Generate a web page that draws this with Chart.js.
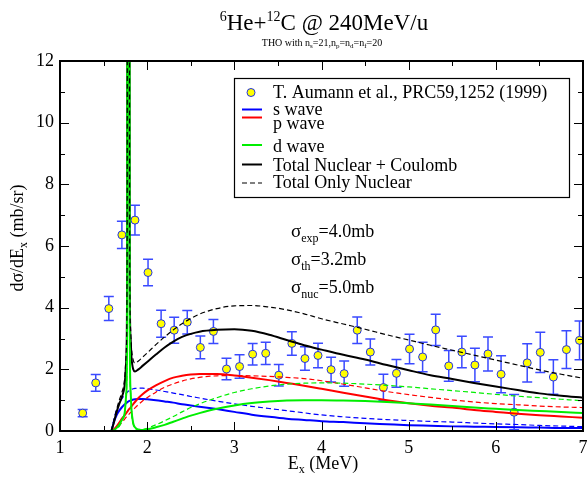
<!DOCTYPE html>
<html>
<head>
<meta charset="utf-8">
<script src="https://cdn.jsdelivr.net/npm/chart.js@4.4.0/dist/chart.umd.min.js"></script>
<style>
  html, body { margin: 0; padding: 0; background: #fff; }
  canvas { display: block; }
</style>
</head>
<body>
<canvas id="chart" width="588" height="477"></canvas>
<script>
// T. Aumann et al. data
const expE = [1.26, 1.41, 1.56, 1.71, 1.86, 2.01, 2.16, 2.31, 2.46, 2.61, 2.76, 2.91, 3.06, 3.21, 3.36, 3.51, 3.66, 3.81, 3.96, 4.11,
  4.26, 4.41, 4.56, 4.71, 4.86, 5.01, 5.16, 5.31, 5.46, 5.61, 5.76, 5.91, 6.06, 6.21, 6.36, 6.51, 6.66, 6.81, 6.96];
const expVal = [0.58, 1.56, 3.97, 6.36, 6.84, 5.14, 3.48, 3.27, 3.53, 2.71, 3.23, 2.01, 2.09, 2.49, 2.52, 1.81, 2.84, 2.35, 2.45, 1.99,
  1.86, 3.27, 2.56, 1.41, 1.87, 2.66, 2.40, 3.28, 2.11, 2.56, 2.14, 2.50, 1.84, 0.61, 2.21, 2.55, 1.75, 2.64, 2.94];
const expErr = [0.12, 0.27, 0.39, 0.44, 0.48, 0.43, 0.44, 0.42, 0.38, 0.37, 0.39, 0.35, 0.38, 0.35, 0.36, 0.35, 0.38, 0.38, 0.40, 0.40,
  0.41, 0.43, 0.42, 0.43, 0.45, 0.48, 0.48, 0.51, 0.50, 0.51, 0.54, 0.55, 0.60, 0.57, 0.62, 0.65, 0.56, 0.61, 0.63];

// THO calculations, all on the same energy grid
const curveE = [1.59, 1.62, 1.65, 1.68, 1.71, 1.74, 1.76, 1.77, 1.78, 1.79, 1.80, 1.81, 1.82, 1.84, 1.86, 1.90, 1.95, 2.00, 2.10, 2.20,
  2.30, 2.40, 2.50, 2.60, 2.80, 3.00, 3.20, 3.40, 3.60, 3.80, 4.00, 4.25, 4.50, 4.75, 5.00, 5.25, 5.50, 5.75, 6.00, 6.25,
  6.50, 6.75, 7.00];
const sWave = [0, 0.30, 0.52, 0.66, 0.77, 0.86, 0.90, 0.93, 0.95, 0.97, 0.98, 0.99, 1.00, 1.02, 1.03, 1.04, 1.04, 1.03, 1.00, 0.96,
  0.92, 0.87, 0.83, 0.79, 0.71, 0.62, 0.53, 0.46, 0.40, 0.36, 0.32, 0.29, 0.25, 0.22, 0.19, 0.17, 0.15, 0.14, 0.13, 0.12,
  0.11, 0.10, 0.10];
const sWaveNuc = [0, 0.40, 0.70, 0.90, 1.05, 1.16, 1.22, 1.25, 1.28, 1.30, 1.32, 1.34, 1.35, 1.37, 1.38, 1.39, 1.39, 1.37, 1.33, 1.28,
  1.23, 1.18, 1.12, 1.07, 0.97, 0.88, 0.80, 0.73, 0.66, 0.59, 0.52, 0.46, 0.41, 0.37, 0.34, 0.31, 0.29, 0.26, 0.23, 0.21,
  0.18, 0.16, 0.14];
const pWave = [0, 0.06, 0.15, 0.27, 0.40, 0.50, 0.58, 0.62, 0.66, 0.70, 0.73, 0.76, 0.80, 0.87, 0.94, 1.07, 1.20, 1.31, 1.48, 1.62,
  1.73, 1.79, 1.83, 1.85, 1.85, 1.80, 1.73, 1.65, 1.56, 1.47, 1.37, 1.24, 1.12, 1.00, 0.90, 0.82, 0.76, 0.68, 0.62, 0.56,
  0.51, 0.47, 0.43];
const pWaveNuc = [0, 0.04, 0.10, 0.18, 0.28, 0.38, 0.45, 0.48, 0.51, 0.54, 0.57, 0.60, 0.63, 0.69, 0.75, 0.86, 0.98, 1.08, 1.26, 1.42,
  1.53, 1.62, 1.69, 1.74, 1.79, 1.80, 1.79, 1.77, 1.74, 1.70, 1.63, 1.52, 1.40, 1.28, 1.18, 1.09, 1.01, 0.94, 0.89, 0.85,
  0.81, 0.78, 0.76];
const dWave = [0, 0.03, 0.10, 0.20, 0.36, 0.55, 1.20, 3.50, 40, 40, 3.50, 1.30, 0.70, 0.25, 0.12, 0.04, 0.03, 0.05, 0.12, 0.20,
  0.30, 0.40, 0.50, 0.58, 0.72, 0.83, 0.91, 0.96, 0.99, 1.00, 1.00, 0.99, 0.97, 0.94, 0.90, 0.86, 0.81, 0.76, 0.72, 0.68,
  0.65, 0.62, 0.58];
const dWaveNuc = [0, 0.02, 0.07, 0.15, 0.30, 0.55, 1.20, 3.30, 40, 40, 3.30, 1.20, 0.60, 0.22, 0.10, 0.05, 0.05, 0.09, 0.20, 0.33,
  0.47, 0.62, 0.76, 0.88, 1.08, 1.25, 1.37, 1.46, 1.52, 1.55, 1.56, 1.55, 1.52, 1.48, 1.43, 1.37, 1.31, 1.25, 1.19, 1.13,
  1.08, 1.03, 0.98];
const totalNC = [0, 0.30, 0.62, 0.88, 1.10, 1.45, 2.30, 5.00, 42, 42, 5.00, 3.00, 2.40, 2.00, 1.93, 2.00, 2.12, 2.24, 2.48, 2.71,
  2.90, 3.05, 3.15, 3.22, 3.28, 3.30, 3.25, 3.12, 2.95, 2.78, 2.64, 2.47, 2.32, 2.14, 1.97, 1.81, 1.69, 1.56, 1.44, 1.33,
  1.22, 1.14, 1.08];
const totalNuc = [0, 0.35, 0.70, 1.00, 1.25, 1.65, 2.60, 5.50, 42, 42, 5.50, 3.30, 2.70, 2.30, 2.20, 2.27, 2.40, 2.53, 2.80, 3.05,
  3.28, 3.48, 3.65, 3.79, 3.97, 4.06, 4.07, 4.02, 3.93, 3.80, 3.64, 3.47, 3.30, 3.12, 2.95, 2.78, 2.62, 2.46, 2.30, 2.14,
  1.98, 1.84, 1.71];

const SERIF = '"Liberation Serif", "Times New Roman", serif';
const pts = (xs, ys) => xs.map((x, i) => ({ x, y: ys[i] }));

// higher order is drawn first
const curve = (label, ys, color, dashed, inLegend, order) => ({
  type: 'line',
  label,
  data: pts(curveE, ys),
  borderColor: color,
  borderWidth: dashed ? 1.2 : 2,
  borderDash: dashed ? [5, 3] : [],
  pointRadius: 0,
  fill: false,
  cubicInterpolationMode: 'monotone',
  clip: 0,
  order,
  inLegend
});

// draw text made of pieces: [text, size, dy]
function richText(ctx, parts, x, y, align) {
  let w = 0;
  parts.forEach(p => { ctx.font = p[1] + 'px ' + SERIF; w += ctx.measureText(p[0]).width; });
  let cx = align === 'center' ? x - w / 2 : x;
  parts.forEach(p => {
    ctx.font = p[1] + 'px ' + SERIF;
    ctx.fillText(p[0], cx, y + (p[2] || 0));
    cx += ctx.measureText(p[0]).width;
  });
}

const decor = {
  id: 'decor',
  beforeDatasetsDraw(chart) {
    const { ctx, chartArea: a, scales: { x, y } } = chart;
    ctx.save();
    ctx.beginPath();
    ctx.rect(a.left, a.top, a.right - a.left, a.bottom - a.top);
    ctx.clip();
    ctx.strokeStyle = '#3a4aff';
    ctx.lineWidth = 1.5;
    expE.forEach((e, i) => {
      const px = x.getPixelForValue(e);
      const lo = y.getPixelForValue(expVal[i] - expErr[i]);
      const hi = y.getPixelForValue(expVal[i] + expErr[i]);
      ctx.beginPath();
      ctx.moveTo(px, lo); ctx.lineTo(px, hi);
      ctx.moveTo(px - 5, lo); ctx.lineTo(px + 5, lo);
      ctx.moveTo(px - 5, hi); ctx.lineTo(px + 5, hi);
      ctx.stroke();
    });
    ctx.restore();
  },
  afterDraw(chart) {
    const { ctx, chartArea: a, scales: { x, y } } = chart;
    ctx.save();
    ctx.fillStyle = '#000';
    ctx.strokeStyle = '#000';

    // frame and inward ticks
    ctx.lineWidth = 2;
    ctx.strokeRect(a.left, a.top, a.right - a.left, a.bottom - a.top);
    ctx.lineWidth = 1;
    ctx.beginPath();
    for (let v = 1; v <= 7.001; v += 0.5) {
      const px = Math.round(x.getPixelForValue(v)) + 0.5;
      const len = Number.isInteger(v) ? 9 : 5;
      ctx.moveTo(px, a.bottom); ctx.lineTo(px, a.bottom - len);
      ctx.moveTo(px, a.top); ctx.lineTo(px, a.top + len);
    }
    for (let v = 0; v <= 12; v += 1) {
      const py = Math.round(y.getPixelForValue(v)) + 0.5;
      const len = v % 2 === 0 ? 9 : 5;
      ctx.moveTo(a.left, py); ctx.lineTo(a.left + len, py);
      ctx.moveTo(a.right, py); ctx.lineTo(a.right - len, py);
    }
    ctx.stroke();

    // titles
    ctx.textBaseline = 'alphabetic';
    richText(ctx, [['6', 14, -9], ['He+', 23], ['12', 14, -9], ['C @ 240MeV/u', 23]], 324, 30, 'center');
    richText(ctx, [['THO with n', 10], ['s', 7, 2], ['=21,n', 10], ['p', 7, 2], ['=n', 10], ['d', 7, 2],
      ['=n', 10], ['f', 7, 2], ['=20', 10]], 322, 46, 'center');
    richText(ctx, [['E', 18], ['x', 12, 4], [' (MeV)', 18]], 323, 469, 'center');
    ctx.save();
    ctx.translate(23, 238);
    ctx.rotate(-Math.PI / 2);
    richText(ctx, [['d\u03c3/dE', 18], ['x', 12, 4], [' (mb/sr)', 18]], 0, 0, 'center');
    ctx.restore();

    // cross sections
    richText(ctx, [['\u03c3', 19], ['exp', 12, 5], ['=4.0mb', 18]], 291, 237);
    richText(ctx, [['\u03c3', 19], ['th', 12, 5], ['=3.2mb', 18]], 291, 265);
    richText(ctx, [['\u03c3', 19], ['nuc', 12, 5], ['=5.0mb', 18]], 291, 293);

    // legend box
    ctx.fillStyle = '#fff';
    ctx.fillRect(234, 78, 335, 119);
    ctx.lineWidth = 1.2;
    ctx.strokeRect(234.5, 78.5, 335, 119);
    const lineY = [92.5, 109.5, 117.5, 145, 164.5, 183];
    const textY = [98, 115, 129, 152, 171, 188];
    const items = chart.data.datasets.filter(d => d.inLegend);
    items.forEach((d, i) => {
      if (d.showLine === false) {
        ctx.beginPath();
        ctx.arc(251, lineY[i], 4, 0, Math.PI * 2);
        ctx.fillStyle = d.backgroundColor;
        ctx.fill();
        ctx.lineWidth = 1;
        ctx.strokeStyle = d.borderColor;
        ctx.stroke();
      } else {
        ctx.beginPath();
        ctx.strokeStyle = d.borderColor;
        ctx.lineWidth = d.borderWidth;
        ctx.setLineDash(d.borderDash);
        ctx.moveTo(242, lineY[i]); ctx.lineTo(262, lineY[i]);
        ctx.stroke();
        ctx.setLineDash([]);
      }
      ctx.fillStyle = '#000';
      ctx.font = '18px ' + SERIF;
      ctx.fillText(d.label, 273, textY[i]);
    });
    ctx.restore();
  }
};

new Chart(document.getElementById('chart'), {
  type: 'line',
  data: {
    datasets: [
      {
        type: 'line',
        label: 'T. Aumann et al., PRC59,1252 (1999)',
        data: pts(expE, expVal),
        showLine: false,
        pointRadius: 4,
        pointBorderWidth: 1,
        backgroundColor: '#ffff00',
        borderColor: '#2030e8',
        pointBackgroundColor: '#ffff00',
        pointBorderColor: '#2030e8',
        order: 20,
        inLegend: true
      },
      curve('s wave', sWave, '#0000ff', false, true, 9),
      curve('s wave (nuclear)', sWaveNuc, '#0000ff', true, false, 10),
      curve('p wave', pWave, '#ff0000', false, true, 7),
      curve('p wave (nuclear)', pWaveNuc, '#ff0000', true, false, 8),
      curve('d wave', dWave, '#00ee00', false, true, 5),
      curve('d wave (nuclear)', dWaveNuc, '#00ee00', true, false, 4),
      curve('Total Nuclear + Coulomb', totalNC, '#000000', false, true, 6),
      curve('Total Only Nuclear', totalNuc, '#000000', true, true, 3)
    ]
  },
  options: {
    responsive: false,
    animation: false,
    layout: { padding: { top: 61, right: 1, left: 0, bottom: 0 } },
    plugins: { legend: { display: false }, tooltip: { enabled: false }, title: { display: false } },
    scales: {
      x: {
        type: 'linear', min: 1, max: 7,
        ticks: { stepSize: 1, padding: 6, maxRotation: 0, color: '#000', font: { family: SERIF, size: 18 } },
        grid: { display: false, drawTicks: false },
        border: { display: false },
        afterFit(s) { s.height = 46; s.paddingLeft = 0; s.paddingRight = 0; }
      },
      y: {
        type: 'linear', min: 0, max: 12,
        ticks: { stepSize: 2, padding: 6, color: '#000', font: { family: SERIF, size: 18 } },
        grid: { display: false, drawTicks: false },
        border: { display: false },
        afterFit(s) { s.width = 60; s.paddingTop = 0; s.paddingBottom = 0; }
      }
    }
  },
  plugins: [decor]
});
</script>
</body>
</html>
